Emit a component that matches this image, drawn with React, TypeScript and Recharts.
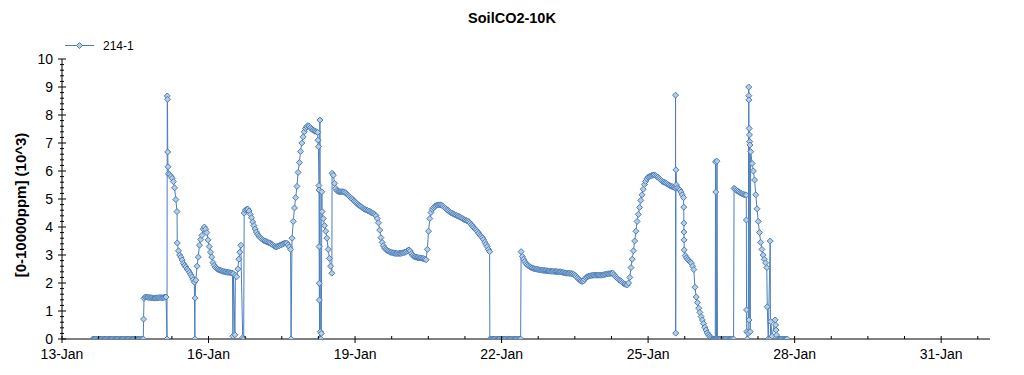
import React from "react";
import { LineChart, Line, XAxis, YAxis } from "recharts";

const SERIES_NAME = "214-1";
const TITLE = "SoilCO2-10K";
const Y_LABEL = "[0-10000ppm] (10^3)";
const MONTH = "Jan";
const FIRST_DAY = 13;
const LAST_DAY = 32;
const MAJOR_DAYS = [13, 16, 19, 22, 25, 28, 31];
const Y_MAX = 10;

// logger interval (days); each run = start day + readings in 10^3 ppm
const STEP = 0.025;

const offlineStart = { start: 13.63, values: [
  0, 0, 0, 0, 0, 0, 0, 0, 0, 0, 0, 0, 0, 0, 0, 0, 0, 0, 0, 0, 0,
  0, 0, 0, 0, 0, 0, 0, 0, 0, 0, 0, 0, 0, 0, 0, 0, 0, 0, 0, 0, 0,
] };

const plateau = { start: 14.68, values: [
  1.45, 1.5, 1.5, 1.49, 1.48, 1.48, 1.47, 1.47, 1.46, 1.46, 1.47, 1.47, 1.47, 1.48, 1.48, 1.47, 1.48, 1.49, 1.5,
] };

const peak15 = { start: 15.18, values: [5.9, 5.87, 5.81, 5.74, 5.62, 5.4, 4.98, 4.55] };

const fall15 = { start: 15.36, values: [
  3.43, 3.15, 3.0, 2.92, 2.82, 2.7, 2.63, 2.57, 2.5, 2.45, 2.38, 2.3, 2.22, 2.12, 2.03,
] };

const bump16 = { start: 15.74, values: [
  2.1, 2.6, 2.93, 3.35, 3.55, 3.7, 3.92, 4.0, 3.92, 3.8, 3.54, 3.3, 3.1, 2.93, 2.73, 2.63,
  2.56, 2.52, 2.49, 2.47, 2.45, 2.44, 2.42, 2.41, 2.4, 2.39, 2.38, 2.38, 2.37, 2.36, 2.35,
] };

const slope17 = { start: 16.73, values: [
  4.5, 4.6, 4.63, 4.64, 4.57, 4.45, 4.33, 4.18, 4.05, 3.93, 3.82, 3.74, 3.68, 3.63, 3.59, 3.55,
  3.52, 3.5, 3.48, 3.46, 3.44, 3.43, 3.4, 3.37, 3.34, 3.31, 3.29, 3.3, 3.32, 3.34, 3.36, 3.38,
  3.4, 3.42, 3.43, 3.42, 3.36, 3.29, 3.2,
] };

const rise18 = { start: 17.71, values: [
  3.6, 4.2, 4.68, 5.05, 5.45, 5.95, 6.3, 6.7, 7.0, 7.22, 7.4, 7.52, 7.58, 7.62, 7.6, 7.55,
  7.5, 7.46, 7.44, 7.42, 7.4, 7.38,
] };

const dip18 = { start: 18.325, values: [4.55, 4.3, 4.05, 3.85, 3.6, 3.2, 2.88, 2.6, 2.35] };

const decline19to21 = { start: 18.53, values: [
  5.92, 5.85, 5.56, 5.38, 5.3, 5.27, 5.26, 5.26, 5.26, 5.26, 5.25, 5.22, 5.18, 5.14, 5.1, 5.06,
  5.02, 4.98, 4.93, 4.89, 4.85, 4.81, 4.78, 4.75, 4.72, 4.68, 4.65, 4.63, 4.61, 4.59, 4.57, 4.55,
  4.52, 4.5, 4.47, 4.44, 4.4, 4.3, 4.15, 3.89, 3.62, 3.45, 3.33, 3.25, 3.2, 3.17, 3.14, 3.12,
  3.1, 3.09, 3.08, 3.07, 3.06, 3.06, 3.05, 3.06, 3.06, 3.07, 3.08, 3.09, 3.11, 3.13, 3.16, 3.18,
  3.14, 3.05, 2.99, 2.95, 2.93, 2.92, 2.91, 2.9, 2.9, 2.89, 2.88, 2.87, 2.85, 2.83, 3.2, 3.85,
  4.3, 4.52, 4.63, 4.69, 4.73, 4.76, 4.78, 4.79, 4.79, 4.79, 4.77, 4.74, 4.7, 4.66, 4.62, 4.59,
  4.55, 4.52, 4.5, 4.47, 4.45, 4.43, 4.41, 4.39, 4.37, 4.35, 4.32, 4.3, 4.27, 4.25, 4.23, 4.21,
  4.19, 4.14, 4.08, 4.03, 3.98, 3.93, 3.89, 3.84, 3.78, 3.72, 3.67, 3.62, 3.55, 3.46, 3.38, 3.3,
  3.2, 3.12,
] };

const offlineMid = { start: 21.775, values: [
  0, 0, 0, 0, 0, 0, 0, 0, 0, 0, 0, 0, 0, 0, 0, 0, 0, 0, 0, 0, 0, 0, 0, 0, 0,
] };

const plain22to25 = { start: 22.4, values: [
  3.12, 2.95, 2.85, 2.77, 2.7, 2.65, 2.61, 2.58, 2.56, 2.54, 2.52, 2.51, 2.5, 2.49, 2.48, 2.47,
  2.46, 2.46, 2.45, 2.45, 2.44, 2.44, 2.43, 2.43, 2.42, 2.42, 2.42, 2.41, 2.41, 2.41, 2.4, 2.4,
  2.4, 2.39, 2.38, 2.37, 2.36, 2.35, 2.35, 2.35, 2.34, 2.34, 2.33, 2.31, 2.28, 2.24, 2.19, 2.14,
  2.1, 2.07, 2.05, 2.07, 2.13, 2.19, 2.22, 2.24, 2.25, 2.26, 2.27, 2.28, 2.28, 2.28, 2.28, 2.28,
  2.28, 2.28, 2.28, 2.29, 2.3, 2.31, 2.32, 2.33, 2.33, 2.34, 2.35, 2.35, 2.3, 2.24, 2.2, 2.16,
  2.12, 2.09, 2.06, 2.02, 1.98, 1.96, 1.94, 1.93, 2.0, 2.2, 2.55, 2.85, 3.15, 3.5, 3.85, 4.2,
  4.45, 4.7, 4.95, 5.15, 5.35, 5.52, 5.63, 5.72, 5.78, 5.8, 5.82, 5.84, 5.85, 5.86, 5.84, 5.81,
  5.78, 5.74, 5.7, 5.66, 5.62, 5.6, 5.58, 5.56, 5.53, 5.5, 5.47, 5.45, 5.44, 5.42, 5.4,
] };

const shoulder25 = { start: 25.6, values: [5.4, 5.36, 5.32, 5.25, 5.15, 5.05] };

const drain26 = { start: 25.76, values: [
  2.98, 2.9, 2.84, 2.8, 2.75, 2.71, 2.6, 2.48, 1.85, 1.5, 1.3, 1.1, 0.95, 0.8, 0.68, 0.55,
  0.42, 0.32, 0.22, 0.15, 0.1, 0.05,
] };

const offlineLate = { start: 26.3, values: [
  0, 0, 0, 0, 0, 0, 0, 0, 0, 0, 0, 0, 0, 0, 0, 0, 0, 0, 0,
] };

const shelf27 = { start: 26.76, values: [5.38, 5.35, 5.31, 5.28, 5.25, 5.22, 5.2, 5.18, 5.16, 5.15, 5.14] };

const tail27 = { start: 27.13, values: [6.27, 6.0, 5.68, 5.15, 4.65, 4.2, 3.8, 3.45, 3.2, 3.0, 2.85, 2.72, 2.55] };

const offlineEnd = { start: 27.65, values: [0, 0, 0, 0, 0, 0, 0, 0, 0] };

// single off-interval readings (sensor resets and spikes): [day, value]
const spikes: [number, number][] = [
  [14.665, 0], [14.67, 0.71],
  [15.15, 0], [15.155, 8.68], [15.16, 8.56], [15.165, 6.68], [15.17, 6.15],
  [15.72, 0], [15.725, 1.46],
  [16.5, 0.1], [16.51, 2.33], [16.54, 0.15], [16.55, 2.28], [16.575, 2.22], [16.6, 2.5], [16.62, 2.85],
  [16.64, 3.1], [16.66, 3.35], [16.7, 0.05], [16.72, 0],
  [17.69, 0],
  [18.24, 7.1], [18.25, 6.87], [18.26, 5.48], [18.262, 5.32], [18.265, 3.3], [18.268, 1.99], [18.27, 1.39],
  [18.275, 0], [18.28, 7.82], [18.29, 0.26], [18.3, 0], [18.31, 0.2], [18.32, 5.26],
  [21.76, 0], [22.39, 0],
  [25.56, 5.39], [25.562, 8.71], [25.565, 0.21], [25.57, 6.04], [25.58, 5.5],
  [25.73, 4.71], [25.732, 4.14], [25.734, 3.82], [25.736, 3.54], [25.74, 3.18],
  [26.38, 6.33], [26.385, 5.25], [26.39, 0], [26.41, 6.35], [26.42, 0],
  [27.012, 4.25], [27.015, 1.04], [27.02, 0.26], [27.03, 0], [27.05, 0.2], [27.06, 9.0], [27.062, 8.69],
  [27.064, 8.54], [27.066, 0.68], [27.07, 7.52], [27.075, 7.29], [27.08, 7.05], [27.085, 6.93],
  [27.09, 0.26], [27.1, 6.69],
  [27.44, 1.15], [27.46, 0], [27.5, 3.5], [27.505, 0], [27.51, 0.62], [27.54, 0.1], [27.6, 0.68],
  [27.61, 0.5], [27.62, 0.32], [27.63, 0.14],
];

const runs = [
  offlineStart, plateau, peak15, fall15, bump16, slope17, rise18, dip18, decline19to21,
  offlineMid, plain22to25, shoulder25, drain26, offlineLate, shelf27, tail27, offlineEnd,
];

const data = [
  ...runs.flatMap((r) => r.values.map((co2, i) => ({ day: r.start + i * STEP, co2 }))),
  ...spikes.map(([day, co2]) => ({ day, co2 })),
].sort((a, b) => a.day - b.day);

const X_TICKS: number[] = [];
for (let d = FIRST_DAY; d < LAST_DAY; d += 0.75) X_TICKS.push(d);
const Y_TICKS = Array.from({ length: Y_MAX * 5 + 1 }, (_, i) => i / 5);

const FONT = "Arial, 'Liberation Sans', sans-serif";
const LINE = "#4A7EBB";
const MARKER_FILL = "#B9CDE0";

const isMajorY = (v: number) => Math.abs(v - Math.round(v)) < 1e-6;

const BottomTick = ({ x, y, payload }: any) => {
  const major = MAJOR_DAYS.includes(payload.value);
  return (
    <g>
      <line x1={x} x2={x} y1={y - 3} y2={major ? y + 4 : y} stroke="#000" />
      {major && (
        <text x={x} y={y + 20} textAnchor="middle" fontSize={14} fontFamily={FONT} fill="#000">
          {`${payload.value}-${MONTH}`}
        </text>
      )}
    </g>
  );
};

const TopTick = ({ x, y, payload }: any) => {
  const major = MAJOR_DAYS.includes(payload.value);
  return <line x1={x} x2={x} y1={y} y2={y + (major ? 5 : 3)} stroke="#000" />;
};

const LeftTick = ({ x, y, payload }: any) => {
  const major = isMajorY(payload.value);
  return (
    <g>
      <line x1={x - (major ? 4 : 2)} x2={x + (major ? 4 : 2)} y1={y} y2={y} stroke="#000" />
      {major && (
        <text x={x - 9} y={y + 5} textAnchor="end" fontSize={14} fontFamily={FONT} fill="#000">
          {Math.round(payload.value)}
        </text>
      )}
    </g>
  );
};

const RightTick = ({ x, y, payload }: any) => {
  const major = isMajorY(payload.value);
  return <line x1={x - (major ? 4 : 3)} x2={x} y1={y} y2={y} stroke="#000" />;
};

const Diamond = (p: any) => {
  const { cx, cy, index } = p;
  if (cx == null || cy == null) return <g key={index} />;
  const r = 3;
  return (
    <polygon
      key={index}
      points={`${cx},${cy - r} ${cx + r},${cy} ${cx},${cy + r} ${cx - r},${cy}`}
      fill={MARKER_FILL}
      stroke={LINE}
      strokeWidth={1}
    />
  );
};

export default function App() {
  return (
    <div style={{ position: "absolute", left: 0, top: 0, width: 1024, height: 375, background: "#fff" }}>
      <LineChart
        width={1024}
        height={375}
        data={data}
        margin={{ top: 59, right: 34, bottom: 0, left: 2 }}
      >
        <XAxis
          xAxisId="bottom"
          dataKey="day"
          type="number"
          domain={[FIRST_DAY, LAST_DAY]}
          allowDataOverflow
          ticks={X_TICKS}
          interval={0}
          height={36}
          tickSize={0}
          tickMargin={0}
          tick={<BottomTick />}
          axisLine={{ stroke: "#000" }}
        />
        <XAxis
          xAxisId="top"
          orientation="top"
          dataKey="day"
          type="number"
          domain={[FIRST_DAY, LAST_DAY]}
          allowDataOverflow
          ticks={X_TICKS}
          interval={0}
          height={0}
          tickSize={0}
          tickMargin={0}
          tick={<TopTick />}
          axisLine={{ stroke: "#000" }}
        />
        <YAxis
          yAxisId="left"
          type="number"
          domain={[0, Y_MAX]}
          allowDataOverflow
          ticks={Y_TICKS}
          interval={0}
          width={60}
          tickSize={0}
          tickMargin={0}
          tick={<LeftTick />}
          axisLine={{ stroke: "#000" }}
        />
        <YAxis
          yAxisId="right"
          orientation="right"
          type="number"
          domain={[0, Y_MAX]}
          allowDataOverflow
          ticks={Y_TICKS}
          interval={0}
          width={0}
          tickSize={0}
          tickMargin={0}
          tick={<RightTick />}
          axisLine={{ stroke: "#000" }}
        />
        <Line
          xAxisId="bottom"
          yAxisId="left"
          type="linear"
          dataKey="co2"
          name={SERIES_NAME}
          stroke={LINE}
          strokeWidth={1}
          dot={Diamond}
          activeDot={false}
          isAnimationActive={false}
        />
      </LineChart>
      <svg
        width={1024}
        height={375}
        style={{ position: "absolute", left: 0, top: 0, pointerEvents: "none" }}
      >
        <text x={512} y={23} textAnchor="middle" fontSize={14.5} fontWeight="bold" fontFamily={FONT} fill="#000">
          {TITLE}
        </text>
        <line x1={65} x2={94} y1={45.5} y2={45.5} stroke={LINE} />
        <polygon points="79.5,42.5 82.5,45.5 79.5,48.5 76.5,45.5" fill={MARKER_FILL} stroke={LINE} />
        <text x={103} y={50} fontSize={12} fontFamily={FONT} fill="#000">
          {SERIES_NAME}
        </text>
        <text
          x={20}
          y={205}
          transform="rotate(-90 20 205)"
          textAnchor="middle"
          dominantBaseline="central"
          fontSize={15}
          fontWeight="bold"
          fontFamily={FONT}
          fill="#000"
        >
          {Y_LABEL}
        </text>
      </svg>
    </div>
  );
}
